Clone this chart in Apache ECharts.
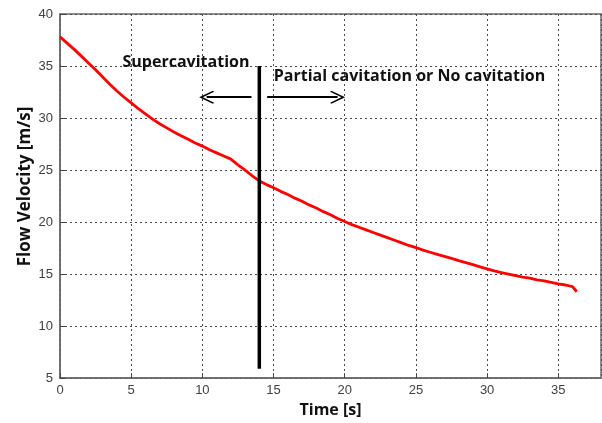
<!DOCTYPE html>
<html>
<head>
<meta charset="utf-8">
<script src="https://cdn.jsdelivr.net/npm/echarts@6/dist/echarts.min.js"></script>
<style>
  html, body { margin: 0; padding: 0; background: #fff; }
  #chart { width: 602px; height: 423px; }
</style>
</head>
<body>
<div id="chart"></div>
<script>
// Measured flow velocity during the run (time in s, velocity in m/s)
const timeS = [
  0, 0.5, 1, 1.5, 2, 2.5, 3, 3.5, 4, 4.5,
  5, 5.5, 6, 6.5, 7, 7.5, 8, 8.5, 9, 9.5,
  10, 10.5, 11, 11.5, 12, 12.5, 13, 13.5, 14, 14.5,
  15, 15.5, 16, 16.5, 17, 17.5, 18, 18.5, 19, 19.5,
  20, 20.5, 21, 21.5, 22, 22.5, 23, 23.5, 24, 24.5,
  25, 25.5, 26, 26.5, 27, 27.5, 28, 28.5, 29, 29.5,
  30, 30.5, 31, 31.5, 32, 32.5, 33, 33.5, 34, 34.5,
  35, 35.5, 36, 36.3
];
const velocity = [
  37.8, 37.2, 36.6, 35.95, 35.3, 34.65, 33.95, 33.25, 32.6, 32.0,
  31.45, 30.9, 30.4, 29.9, 29.45, 29.05, 28.65, 28.3, 27.95, 27.6,
  27.3, 26.95, 26.65, 26.35, 26.05, 25.5, 25.0, 24.45, 23.95, 23.6,
  23.3, 22.95, 22.65, 22.3, 22.0, 21.65, 21.35, 21.0, 20.7, 20.35,
  20.05, 19.75, 19.5, 19.25, 19.0, 18.75, 18.5, 18.25, 18.0, 17.75,
  17.55, 17.3, 17.1, 16.9, 16.7, 16.5, 16.3, 16.1, 15.9, 15.7,
  15.5, 15.3, 15.15, 15.0, 14.85, 14.7, 14.6, 14.45, 14.35, 14.2,
  14.05, 13.95, 13.8, 13.3
];

// Regime boundary and annotation anchors (data coordinates)
const boundaryTime = 14;
const boundaryRange = [35, 5.9];
const arrowLevel = 32;
const leftArrow = [13.45, 10.3];
const rightArrow = [14.55, 19.5];
const regimeLabels = [
  { name: 'Supercavitation', coord: [8.85, 35.3] },
  { name: 'Partial cavitation or No cavitation', coord: [24.55, 33.95] }
];

const xTicks = { min: 0, max: 38, interval: 5 };
const yTicks = { min: 5, max: 40, interval: 5 };

const velocityData = timeS.map((t, i) => [t, velocity[i]]);
const boundaryData = boundaryRange.map(v => [boundaryTime, v]);

const axisColor = '#6a6a6a';
const gridLineStyle = { color: '#4a4a4a', width: 1, type: [2, 3] };
const tickFont = { color: '#404040', fontFamily: 'Liberation Sans', fontSize: 13 };
const boldFont = { color: '#111', fontFamily: 'Open Sans', fontWeight: 'bold' };
const chevron = 'path://M10,0 L20,11 L18.4,12 L10,3 L1.6,12 L0,11 Z';

const chart = echarts.init(document.getElementById('chart'), null, { renderer: 'canvas' });

chart.setOption({
  animation: false,
  backgroundColor: '#ffffff',
  grid: {
    left: 60, top: 14, width: 541, height: 365,
    show: true, borderColor: axisColor, borderWidth: 1.5,
    containLabel: false
  },
  xAxis: {
    type: 'value',
    min: xTicks.min, max: xTicks.max, interval: xTicks.interval,
    name: 'Time [s]',
    nameLocation: 'middle',
    nameGap: 21,
    nameTextStyle: Object.assign({ fontSize: 16 }, boldFont),
    axisLine: { show: true, lineStyle: { color: axisColor, width: 1.5 } },
    axisTick: { show: true, inside: true, length: 5, lineStyle: { color: '#444' } },
    axisLabel: Object.assign({ margin: 6, showMaxLabel: false }, tickFont),
    splitLine: { show: true, lineStyle: gridLineStyle }
  },
  yAxis: {
    type: 'value',
    min: yTicks.min, max: yTicks.max, interval: yTicks.interval,
    name: 'Flow Velocity [m/s]',
    nameLocation: 'middle',
    nameMoveOverlap: false,
    nameGap: 26,
    nameTextStyle: Object.assign({ fontSize: 17, padding: [0, 0, 0, 19] }, boldFont),
    axisLine: { show: true, lineStyle: { color: axisColor, width: 1.5 } },
    axisTick: { show: true, inside: true, length: 5, lineStyle: { color: '#444' } },
    axisLabel: Object.assign({ margin: 7 }, tickFont),
    splitLine: { show: true, lineStyle: gridLineStyle }
  },
  series: [
    {
      name: 'Flow velocity',
      type: 'line',
      data: velocityData,
      showSymbol: false,
      symbol: 'none',
      lineStyle: { color: '#ff0000', width: 2.8 },
      z: 3
    },
    {
      name: 'Regime boundary',
      type: 'line',
      data: boundaryData,
      showSymbol: false,
      symbol: 'none',
      lineStyle: { color: '#000', width: 3.5 },
      z: 4,
      markLine: {
        silent: true,
        symbol: ['none', chevron],
        symbolSize: [13, 15],
        lineStyle: { color: '#000', width: 2, type: 'solid' },
        label: { show: false },
        data: [
          [{ coord: [leftArrow[0], arrowLevel] }, { coord: [leftArrow[1], arrowLevel] }],
          [{ coord: [rightArrow[0], arrowLevel] }, { coord: [rightArrow[1], arrowLevel] }]
        ]
      },
      markPoint: {
        silent: true,
        symbol: 'circle',
        symbolSize: 0,
        label: Object.assign({
          show: true,
          position: 'inside',
          formatter: p => p.name,
          fontSize: 16
        }, boldFont),
        data: regimeLabels.map(d => ({ name: d.name, coord: d.coord }))
      }
    }
  ]
});
</script>
</body>
</html>
